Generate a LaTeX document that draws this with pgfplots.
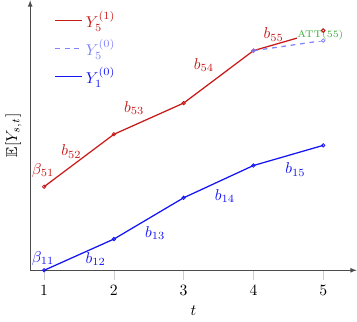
\documentclass[border=0pt]{standalone}
\usepackage{pgfplots}
\usepackage{amssymb}
\pgfplotsset{compat=1.18}
\definecolor{myred}{RGB}{200,25,25}
\definecolor{myblue}{RGB}{20,20,245}
\definecolor{mylblue}{RGB}{130,130,250}
\definecolor{mygreen}{RGB}{60,175,60}
\begin{document}
\begin{tikzpicture}
\begin{axis}[
  scale only axis,
  width=208pt, height=172pt,
  axis lines=left,
  axis line style={black!70, -latex},
  xmin=0.8, xmax=5.48, ymin=0, ymax=26.8,
  xtick={1,2,3,4,5},
  ytick=\empty,
  tick align=outside,
  major tick length=6pt,
  tick style={gray!40, thin},
  xlabel={$t$},
  ylabel={$\mathbb{E}[Y_{s,t}]$},
  ylabel style={yshift=-4pt},
  legend style={at={(0.06,0.985)}, anchor=north west, draw=none, fill=none, row sep=2pt},
  legend cell align=left,
  legend image post style={mark=none},
  every axis plot/.append style={mark options={solid, line width=0.5pt}},
  clip=false,
]
\addplot[myred, thick, mark=o, mark size=1.1pt] coordinates {(1,8.3) (2,13.5) (3,16.6) (4,21.8) (5,23.8)};
\addlegendentry{\textcolor{myred}{$Y_5^{(1)}$}}
\addplot[mylblue, thick, dashed, mark=o, mark size=1.1pt] coordinates {(4,21.8) (5,22.8)};
\addlegendentry{\textcolor{mylblue}{$Y_5^{(0)}$}}
\addplot[myblue, thick, mark=o, mark size=1.1pt] coordinates {(1,0) (2,3.1) (3,7.2) (4,10.4) (5,12.4)};
\addlegendentry{\textcolor{myblue}{$Y_1^{(0)}$}}
\node[fill=white, inner sep=0.5pt, text=mygreen, font=\fontsize{6.2}{7}\selectfont] at (axis cs:4.96,23.35) {ATT(55)};
\addplot[myred, only marks, mark=o, mark size=1.1pt, forget plot] coordinates {(5,23.8)};
\node[text=myred] at (axis cs:0.985,9.9) {$\beta_{51}$};
\node[text=myred] at (axis cs:1.39,11.8) {$b_{52}$};
\node[text=myred] at (axis cs:2.29,16.1) {$b_{53}$};
\node[text=myred] at (axis cs:3.29,20.4) {$b_{54}$};
\node[text=myred] at (axis cs:4.29,23.4) {$b_{55}$};
\node[text=myblue] at (axis cs:0.985,1.2) {$\beta_{11}$};
\node[text=myblue] at (axis cs:1.74,1.1) {$b_{12}$};
\node[text=myblue] at (axis cs:2.59,3.7) {$b_{13}$};
\node[text=myblue] at (axis cs:3.59,7.4) {$b_{14}$};
\node[text=myblue] at (axis cs:4.6,10.0) {$b_{15}$};
\end{axis}
\end{tikzpicture}
\end{document}
